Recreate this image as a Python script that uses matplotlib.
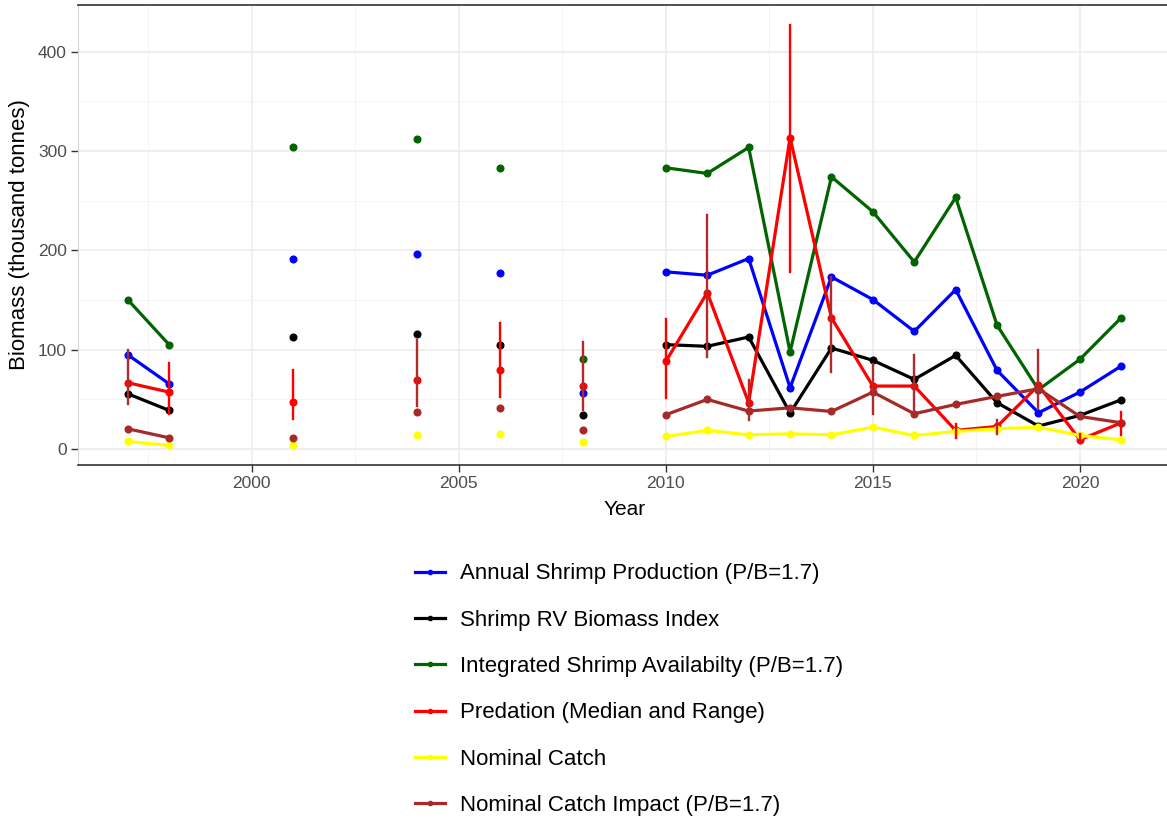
import numpy as np
import matplotlib.pyplot as plt
from matplotlib.lines import Line2D
from matplotlib.ticker import MultipleLocator

plt.rcParams['font.family'] = ['Liberation Sans', 'DejaVu Sans']

nan = np.nan
years = np.arange(1997, 2022)

# thousand tonnes, NaN where there is no survey
production = [94.8, 65.5, nan, nan, 191.3, nan, nan, 196.0, nan, 177.5, nan, 56.1, nan,
              178.2, 174.8, 191.6, 61.5, 173.1, 150.3, 118.3, 160.3, 79.0, 36.3, 57.1, 83.4]
rv_index = [55.5, 38.7, nan, nan, 112.6, nan, nan, 115.3, nan, 104.2, nan, 33.6, nan,
            104.9, 103.2, 112.6, 36.0, 101.5, 89.1, 69.9, 94.1, 46.4, 22.9, 33.6, 49.4]
availability = [150.3, 104.9, nan, nan, 304.2, nan, nan, 311.9, nan, 282.4, nan, 90.8, nan,
                283.0, 277.3, 303.5, 97.5, 273.9, 238.7, 188.2, 253.1, 124.4, 59.5, 90.1, 132.1]
pred_med = [66.6, 57.1, nan, nan, 47.1, nan, nan, 68.9, nan, 79.7, nan, 62.9, nan,
            88.1, 157.3, 46.4, 313.3, 131.8, 63.2, 63.2, 18.5, 22.5, 63.9, 9.1, 26.2]
pred_lo = [44.7, 35.3, nan, nan, 30.3, nan, nan, 42.7, nan, 52.1, nan, 38.7, nan,
           51.1, 92.4, 28.6, 178.2, 77.3, 35.3, 36.3, 10.8, 15.1, 40.3, 6.7, 13.4]
pred_hi = [100.0, 86.4, nan, nan, 79.7, nan, nan, 109.2, nan, 126.7, nan, 107.6, nan,
           131.1, 235.3, 68.9, 426.9, 173.1, 85.7, 94.1, 25.2, 28.6, 99.2, 15.0, 37.0]
catch = [7.4, 3.4, nan, nan, 3.4, nan, nan, 13.4, nan, 15.1, nan, 6.7, nan,
         12.4, 18.5, 14.1, 15.1, 14.1, 21.8, 13.4, 17.5, 20.2, 21.8, 13.4, 9.1]
catch_impact = [20.2, 11.1, nan, nan, 10.8, nan, nan, 37.0, nan, 41.3, nan, 18.5, nan,
                34.3, 49.7, 38.0, 41.3, 37.6, 57.1, 35.3, 44.7, 52.8, 60.5, 32.6, 26.2]

labels = ['Annual Shrimp Production (P/B=1.7)', 'Shrimp RV Biomass Index',
          'Integrated Shrimp Availabilty (P/B=1.7)', 'Predation (Median and Range)',
          'Nominal Catch', 'Nominal Catch Impact (P/B=1.7)']
colors = ['#0000FF', '#000000', '#006400', '#FF0000', '#FFFF00', '#A52A2A']
dark_bars = [1997, 2004, 2008, 2011, 2012, 2014, 2015, 2016, 2018, 2019]

fig = plt.figure(figsize=(11.67, 8.19), dpi=100)
ax = fig.add_axes([0.0668, 0.432, 0.9366, 0.562])

lw, ms = 2.3, 4.8
series = {2: availability, 0: production, 1: rv_index, 4: catch, 5: catch_impact, 3: pred_med}
for i, vals in series.items():
    ax.plot(years, vals, color=colors[i], lw=lw, marker='o', ms=ms, zorder=3 + i * 0.1)

for y, lo, hi in zip(years, pred_lo, pred_hi):
    if np.isnan(lo):
        continue
    c = '#B22A2A' if y in dark_bars else '#FF0000'
    ax.plot([y, y], [lo, hi], color=c, lw=1.7, zorder=4)

ax.set_xlim(1995.8, 2022.2)
ax.set_ylim(-16.5, 447)
ax.xaxis.set_major_locator(MultipleLocator(5))
ax.xaxis.set_minor_locator(MultipleLocator(2.5))
ax.yaxis.set_major_locator(MultipleLocator(100))
ax.yaxis.set_minor_locator(MultipleLocator(50))
ax.grid(which='major', color='#EBEBEB', lw=1.1)
ax.grid(which='minor', color='#F3F3F3', lw=0.6)
ax.set_axisbelow(True)
ax.tick_params(which='minor', length=0)
ax.tick_params(which='major', length=5, width=1, color='#333333',
               labelsize=12.5, labelcolor='#4D4D4D', pad=3)

for s in ['top', 'bottom']:
    ax.spines[s].set_color('#333333')
    ax.spines[s].set_linewidth(1.2)
ax.spines['left'].set_color('#D6D6D6')
ax.spines['right'].set_visible(False)

ax.set_xlabel('Year', fontsize=15, labelpad=6)
ax.set_ylabel('Biomass (thousand tonnes)', fontsize=16, labelpad=6)

handles = [Line2D([], [], color=c, lw=lw, marker='o', ms=3) for c in colors]
fig.legend(handles, labels, loc='upper left', bbox_to_anchor=(0.356, 0.312),
           frameon=False, fontsize=16, handlelength=1.35, handletextpad=0.65,
           labelspacing=1.14, borderpad=0, borderaxespad=0)

fig.savefig('out.png', dpi=100)
